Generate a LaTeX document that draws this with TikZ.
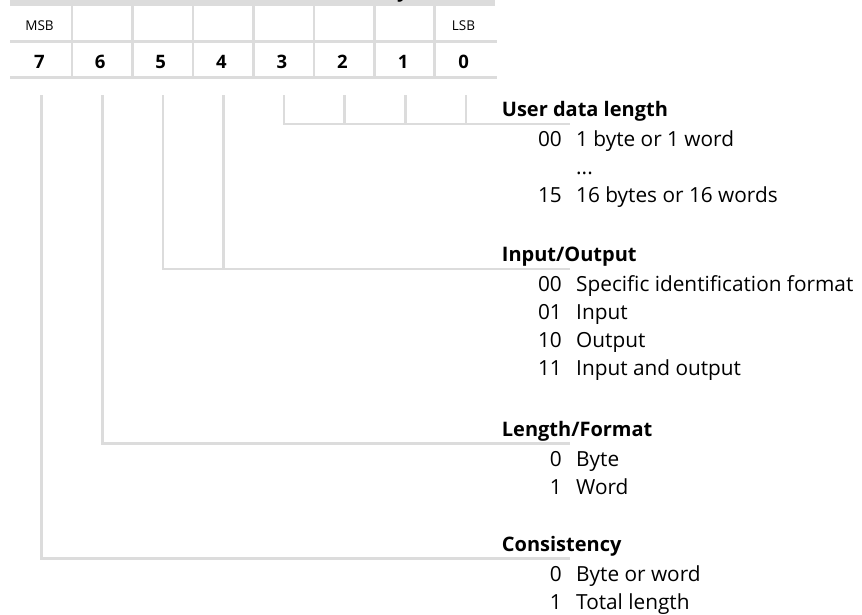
\documentclass[tikz,border=0pt]{standalone}
\usepackage{fontspec}
\setmainfont{Open Sans}
\definecolor{lgray}{RGB}{220,220,220}
\begin{document}
\begin{tikzpicture}[x=1pt,y=-1pt,
  gridline/.style={draw=lgray, line width=2.7pt},
  conn/.style={draw=lgray, line width=2.7pt},
  bitnum/.style={font=\fontsize{18.5}{19}\selectfont\bfseries, anchor=base, inner sep=0pt},
  bitlbl/.style={font=\fontsize{13.5}{14}\selectfont, anchor=base, inner sep=0pt},
  head/.style={font=\fontsize{20}{22}\selectfont\bfseries, anchor=base west, inner sep=0pt},
  code/.style={font=\fontsize{20.8}{22}\selectfont, anchor=base east, inner sep=0pt},
  desc/.style={font=\fontsize{20.8}{22}\selectfont, anchor=base west, inner sep=0pt}]
\useasboundingbox (0,0) rectangle (862,614);
% header bar
\fill[lgray] (10,0) rectangle (495,6);
\begin{scope}
  \clip (0,0) rectangle (862,614);
  \node[head] (hdr) at (397,-2.5) {y};
\end{scope}
% table grid
\draw[gridline] (10,41.3) -- (497.3,41.3);
\draw[gridline] (10,77.3) -- (497.3,77.3);
\foreach \k in {0,...,6} {
  \draw[gridline] ({72+60.47*\k},6) -- ({72+60.47*\k},77.3);
}
% labels
\node[bitlbl] (msb) at (39.5,30.7) {MSB};
\node[bitlbl] (lsb) at (463.5,30.7) {LSB};
% bit numbers
\foreach \b/\j in {7/0,6/1,5/2,4/3,3/4,2/5,1/6,0/7} {
  \node[bitnum] (b\b) at ({39.5+60.6*\j},68) {\b};
  \coordinate (t\b) at ({41.7+60.6*\j},95);
}
% connector end points
\coordinate (eU) at (570,124);
\coordinate (eI) at (570,269);
\coordinate (eL) at (570,443.5);
\coordinate (eC) at (570,558.5);
% connectors
\draw[conn] (t3) |- (eU);
\draw[conn] (t2) -- (t2 |- eU);
\draw[conn] (t1) -- (t1 |- eU);
\draw[conn] (t0) -- (t0 |- eU);
\draw[conn] (t5) |- (eI);
\draw[conn] (t4) -- (t4 |- eI);
\draw[conn] (t6) |- (eL);
\draw[conn] (t7) |- (eC);
% texts: User data length
\node[head] (hU) at (501.7,116) {User data length};
\node[code] (cU1) at (562,146) {00};
\node[desc] (dU1) at (576,146) {1 byte or 1 word};
\node[desc] (dU2) at (576,174) {...};
\node[code] (cU3) at (562,202) {15};
\node[desc] (dU3) at (576,202) {16 bytes or 16 words};
% Input/Output
\node[head] (hI) at (501.7,261) {Input/Output};
\node[code] (cI1) at (562,291) {00};
\node[desc] (dI1) at (576,291) {Specific identification format};
\node[code] (cI2) at (562,319) {01};
\node[desc] (dI2) at (576,319) {Input};
\node[code] (cI3) at (562,347) {10};
\node[desc] (dI3) at (576,347) {Output};
\node[code] (cI4) at (562,375) {11};
\node[desc] (dI4) at (576,375) {Input and output};
% Length/Format
\node[head] (hL) at (501.7,436) {Length/Format};
\node[code] (cL1) at (562,466) {0};
\node[desc] (dL1) at (576,466) {Byte};
\node[code] (cL2) at (562,494) {1};
\node[desc] (dL2) at (576,494) {Word};
% Consistency
\node[head] (hC) at (501.7,551) {Consistency};
\node[code] (cC1) at (562,581) {0};
\node[desc] (dC1) at (576,581) {Byte or word};
\node[code] (cC2) at (562,609) {1};
\node[desc] (dC2) at (576,609) {Total length};
\end{tikzpicture}
\end{document}
